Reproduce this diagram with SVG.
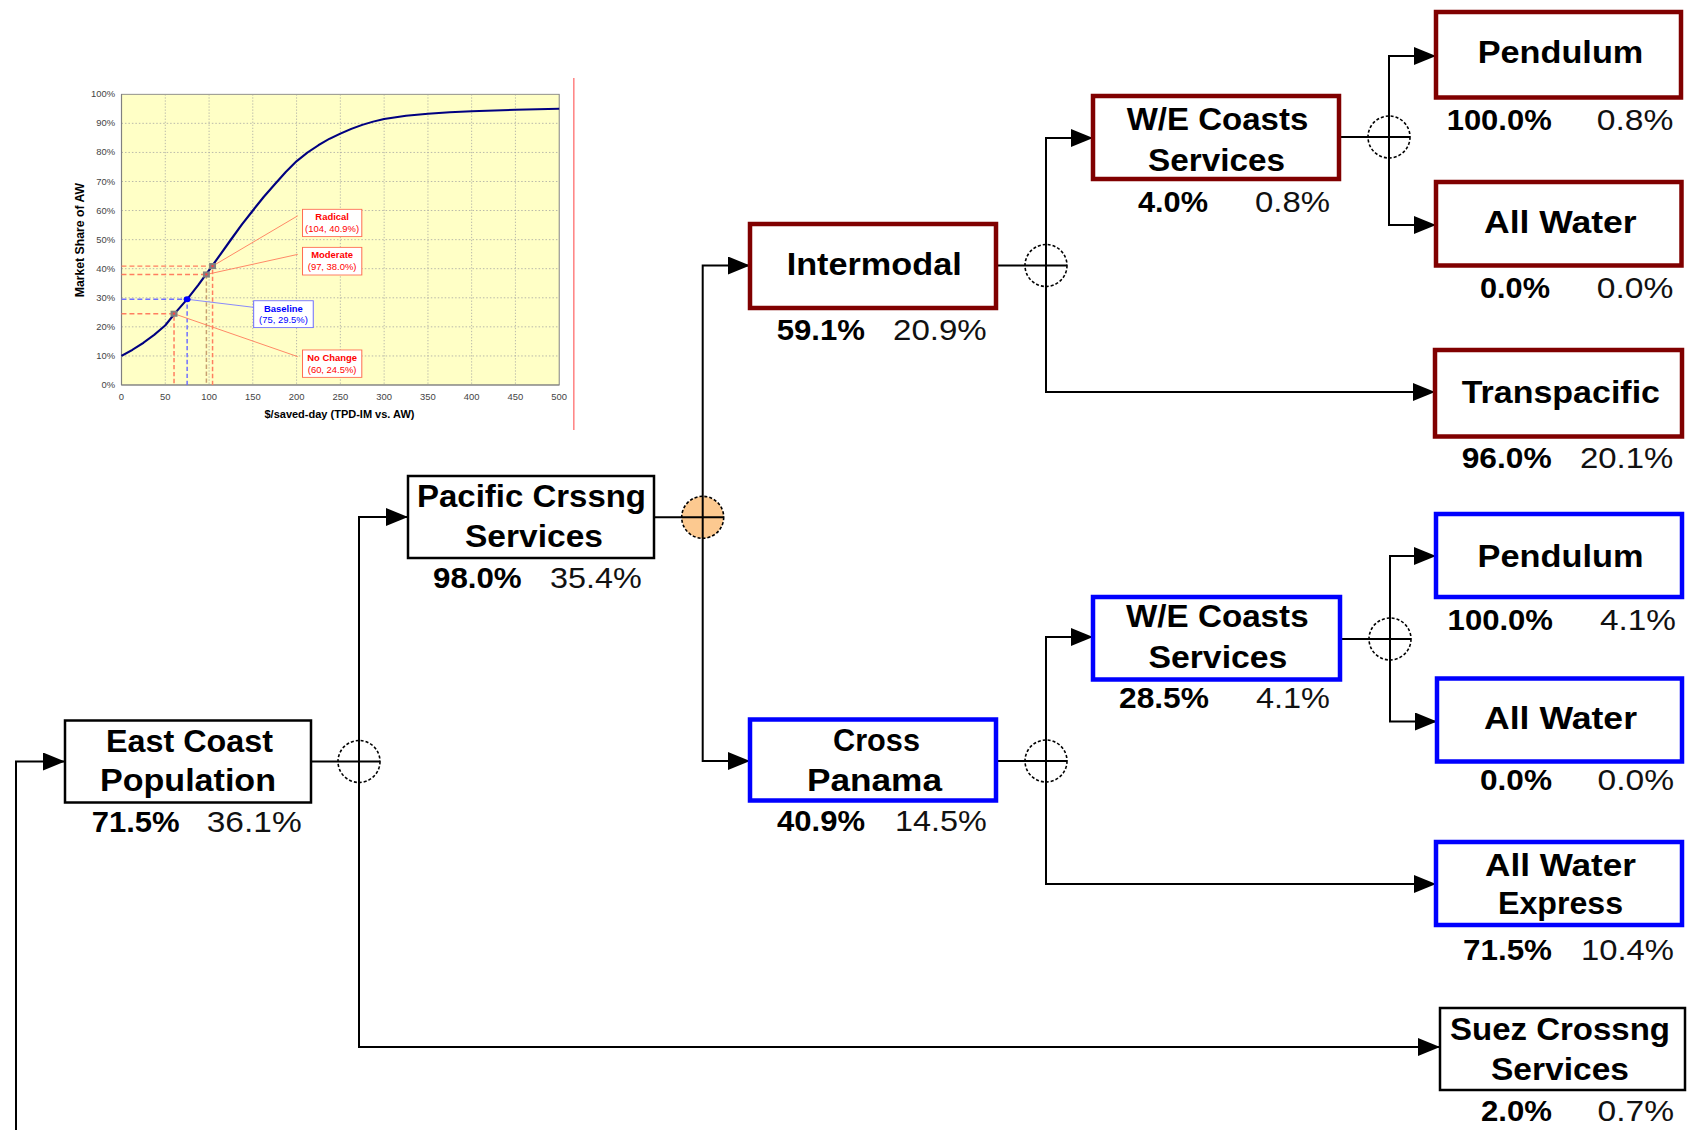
<svg xmlns="http://www.w3.org/2000/svg" width="1690" height="1130" viewBox="0 0 1690 1130">
<style>
.box{fill:#fff;stroke:#000;stroke-width:2.5}
.red{fill:#fff;stroke:#800000;stroke-width:4.5}
.blue{fill:#fff;stroke:#0000ff;stroke-width:4.5}
.t{font-family:"Liberation Sans",Arial,sans-serif;font-weight:bold;font-size:31px;fill:#000}
.pb{font-family:"Liberation Sans",Arial,sans-serif;font-weight:bold;font-size:30px;fill:#000}
.pn{font-family:"Liberation Sans",Arial,sans-serif;font-weight:normal;font-size:30px;fill:#111}
.conn{fill:none;stroke:#000;stroke-width:2}
.arr{marker-end:url(#ah)}
.junc{fill:#fff;stroke:#000;stroke-width:1.6;stroke-dasharray:3 2}
.grid{stroke:#a0a0a0;stroke-width:0.8;stroke-dasharray:1.5 2}
.ax{font-family:"Liberation Sans",Arial,sans-serif;font-size:9.5px;fill:#444}
.axt{font-family:"Liberation Sans",Arial,sans-serif;font-size:12px;font-weight:bold;fill:#000}
.cl{font-family:"Liberation Sans",Arial,sans-serif;font-size:9.5px;fill:#ff0000;text-anchor:middle}
.clb{font-family:"Liberation Sans",Arial,sans-serif;font-size:9.5px;fill:#0000ff;text-anchor:middle}
</style>
<defs>
<marker id="ah" markerUnits="userSpaceOnUse" markerWidth="22" markerHeight="18" refX="22" refY="9" orient="auto">
<path d="M0,0 L22,9 L0,18 z" fill="#000"/>
</marker>
</defs>
<rect width="1690" height="1130" fill="#fff"/>

<g id="chart" transform="translate(121.5,0) scale(0.993,0.8667) translate(-121.5,0)">
<rect x="121.5" y="108.8" width="440.8" height="335.4" fill="#ffffc6" stroke="#808080" stroke-width="1"/>
<g class="grid">
<line x1="165.6" y1="108.8" x2="165.6" y2="444.2"/>
<line x1="209.7" y1="108.8" x2="209.7" y2="444.2"/>
<line x1="253.7" y1="108.8" x2="253.7" y2="444.2"/>
<line x1="297.8" y1="108.8" x2="297.8" y2="444.2"/>
<line x1="341.9" y1="108.8" x2="341.9" y2="444.2"/>
<line x1="386.0" y1="108.8" x2="386.0" y2="444.2"/>
<line x1="430.1" y1="108.8" x2="430.1" y2="444.2"/>
<line x1="474.1" y1="108.8" x2="474.1" y2="444.2"/>
<line x1="518.2" y1="108.8" x2="518.2" y2="444.2"/>
<line x1="121.5" y1="410.7" x2="562.3" y2="410.7"/>
<line x1="121.5" y1="377.1" x2="562.3" y2="377.1"/>
<line x1="121.5" y1="343.6" x2="562.3" y2="343.6"/>
<line x1="121.5" y1="310.0" x2="562.3" y2="310.0"/>
<line x1="121.5" y1="276.5" x2="562.3" y2="276.5"/>
<line x1="121.5" y1="242.9" x2="562.3" y2="242.9"/>
<line x1="121.5" y1="209.4" x2="562.3" y2="209.4"/>
<line x1="121.5" y1="175.9" x2="562.3" y2="175.9"/>
<line x1="121.5" y1="142.3" x2="562.3" y2="142.3"/>
</g>
<line x1="121.5" y1="108.8" x2="121.5" y2="444.2" stroke="#808080" stroke-width="1.2"/>
<line x1="121.5" y1="444.2" x2="562.3" y2="444.2" stroke="#808080" stroke-width="1.2"/>
<g class="ax" text-anchor="end">
<text x="115" y="447.7">0%</text>
<text x="115" y="414.2">10%</text>
<text x="115" y="380.6">20%</text>
<text x="115" y="347.1">30%</text>
<text x="115" y="313.5">40%</text>
<text x="115" y="280.0">50%</text>
<text x="115" y="246.4">60%</text>
<text x="115" y="212.9">70%</text>
<text x="115" y="179.4">80%</text>
<text x="115" y="145.8">90%</text>
<text x="115" y="112.3">100%</text>
</g>
<g class="ax" text-anchor="middle">
<text x="121.5" y="462">0</text>
<text x="165.6" y="462">50</text>
<text x="209.7" y="462">100</text>
<text x="253.7" y="462">150</text>
<text x="297.8" y="462">200</text>
<text x="341.9" y="462">250</text>
<text x="386.0" y="462">300</text>
<text x="430.1" y="462">350</text>
<text x="474.1" y="462">400</text>
<text x="518.2" y="462">450</text>
<text x="562.3" y="462">500</text>
</g>
<text class="axt" x="341" y="482" text-anchor="middle" textLength="151" lengthAdjust="spacingAndGlyphs">$/saved-day (TPD-IM vs. AW)</text>
<text class="axt" x="0" y="0" text-anchor="middle" transform="translate(84,277) rotate(-90)" textLength="132" lengthAdjust="spacingAndGlyphs">Market Share of AW</text>
<g fill="none" stroke-width="1.5" stroke-dasharray="5 3">
<polyline points="121.5,362 174.4,362 174.4,444.2" stroke="#ff7f60"/>
<polyline points="121.5,345.3 187.6,345.3 187.6,444.2" stroke="#7070ff"/>
<polyline points="121.5,316.7 207,316.7" stroke="#ff7f60"/>
<line x1="207" y1="316.7" x2="207" y2="444.2" stroke="#c8a070"/>
<polyline points="121.5,307 213.2,307 213.2,444.2" stroke="#ff7f60"/>
</g>
<polyline fill="none" stroke="#000080" stroke-width="2.3" stroke-linejoin="round" points="121.5,410.66 132.52,403.62 143.54,395.57 154.56,386.18 165.58,375.44 176.6,359.68 187.62,345.26 198.64,329.16 209.66,311.72 220.68,294.28 231.7,276.5 242.72,259.06 253.74,242.96 264.76,227.2 275.78,212.77 286.8,198.69 297.82,185.94 308.84,175.88 319.86,167.5 330.88,160.12 341.9,154.08 352.92,148.72 363.94,144.02 374.96,140.33 385.98,137.31 408.02,133.62 430.06,131.27 452.1,129.6 474.14,128.25 518.22,126.58 562.3,125.57"/>
<g stroke-width="1">
<line x1="213.2" y1="307" x2="299" y2="249" stroke="#ff8060"/>
<line x1="207" y1="316.7" x2="299" y2="293.5" stroke="#ff8060"/>
<line x1="187.6" y1="345.3" x2="254.6" y2="354.6" stroke="#8080ff"/>
<line x1="174.4" y1="362" x2="299" y2="411.5" stroke="#ff8060"/>
</g>
<rect x="170.9" y="358.5" width="7" height="7" fill="#808080"/>
<circle cx="174.4" cy="362" r="1.3" fill="#ff4040"/>
<rect x="203.5" y="313.2" width="7" height="7" fill="#808080"/>
<circle cx="207" cy="316.7" r="1.3" fill="#ff4040"/>
<rect x="209.7" y="303.5" width="7" height="7" fill="#808080"/>
<circle cx="213.2" cy="307" r="1.3" fill="#ff4040"/>
<circle cx="187.6" cy="345.3" r="3.5" fill="#0000ff"/>
<rect x="303.8" y="241.5" width="59.7" height="31.5" fill="#fff" stroke="#ff6a50" stroke-width="1"/>
<text class="cl" x="333.6" y="254" font-weight="bold">Radical</text>
<text class="cl" x="333.6" y="267.5">(104, 40.9%)</text>
<rect x="303.8" y="285.4" width="59.7" height="31.9" fill="#fff" stroke="#ff6a50" stroke-width="1"/>
<text class="cl" x="333.6" y="298" font-weight="bold">Moderate</text>
<text class="cl" x="333.6" y="311.5">(97, 38.0%)</text>
<rect x="254.6" y="347" width="60" height="31" fill="#fff" stroke="#6a6aff" stroke-width="1"/>
<text class="clb" x="284.6" y="359.5" font-weight="bold">Baseline</text>
<text class="clb" x="284.6" y="373">(75, 29.5%)</text>
<rect x="303.8" y="403.8" width="59.7" height="31.6" fill="#fff" stroke="#ff6a50" stroke-width="1"/>
<text class="cl" x="333.6" y="416.5" font-weight="bold">No Change</text>
<text class="cl" x="333.6" y="430">(60, 24.5%)</text>
<line x1="577" y1="90" x2="577" y2="496" stroke="#ff8080" stroke-width="1.5"/>
</g>

<g id="junctions">
<circle class="junc" cx="359" cy="761.5" r="21"/>
<circle class="junc" cx="702.7" cy="517.3" r="21" style="fill:#fcc990"/>
<circle class="junc" cx="1046" cy="265.5" r="21"/>
<circle class="junc" cx="1389" cy="137" r="21"/>
<circle class="junc" cx="1046" cy="761" r="21"/>
<circle class="junc" cx="1390" cy="639" r="21"/>
</g>

<g id="connectors" class="conn">
<path class="arr" d="M16,1130 V761.5 H65"/>
<path d="M311,761.5 H380"/>
<path class="arr" d="M359,761.5 V517 H408"/>
<path class="arr" d="M359,761.5 V1047 H1440"/>
<path d="M654,517.3 H723.7"/>
<path class="arr" d="M702.7,517.3 V265.5 H750"/>
<path class="arr" d="M702.7,517.3 V761 H750"/>
<path d="M996,265.5 H1067"/>
<path class="arr" d="M1046,265.5 V138 H1093"/>
<path class="arr" d="M1046,265.5 V392 H1435"/>
<path d="M1339,137 H1410"/>
<path class="arr" d="M1389,137 V56 H1436"/>
<path class="arr" d="M1389,137 V225 H1436"/>
<path d="M996,761 H1067"/>
<path class="arr" d="M1046,761 V637 H1093"/>
<path class="arr" d="M1046,761 V884 H1436"/>
<path d="M1340,639 H1411"/>
<path class="arr" d="M1390,639 V556 H1436"/>
<path class="arr" d="M1390,639 V721.5 H1437"/>
</g>

<g id="east-coast">
<rect class="box" x="65" y="720.5" width="246" height="82"/>
<text class="t" x="106" y="751.7" textLength="167" lengthAdjust="spacingAndGlyphs">East Coast</text>
<text class="t" x="100" y="790.7" textLength="176" lengthAdjust="spacingAndGlyphs">Population</text>
<text class="pb" x="91.7" y="831.7" textLength="88" lengthAdjust="spacingAndGlyphs">71.5%</text>
<text class="pn" x="206.7" y="831.7" textLength="95" lengthAdjust="spacingAndGlyphs">36.1%</text>
</g>

<g id="pacific">
<rect class="box" x="408" y="476" width="246" height="82"/>
<text class="t" x="417" y="506.7" textLength="229" lengthAdjust="spacingAndGlyphs">Pacific Crssng</text>
<text class="t" x="465" y="547" textLength="138" lengthAdjust="spacingAndGlyphs">Services</text>
<text class="pb" x="433" y="588.3" textLength="88.7" lengthAdjust="spacingAndGlyphs">98.0%</text>
<text class="pn" x="550" y="588.3" textLength="91.7" lengthAdjust="spacingAndGlyphs">35.4%</text>
</g>

<g id="intermodal">
<rect class="red" x="750" y="224" width="246" height="84"/>
<text class="t" x="786.7" y="275" textLength="175" lengthAdjust="spacingAndGlyphs">Intermodal</text>
<text class="pb" x="776.7" y="340" textLength="88.3" lengthAdjust="spacingAndGlyphs">59.1%</text>
<text class="pn" x="893" y="340" textLength="93.7" lengthAdjust="spacingAndGlyphs">20.9%</text>
</g>

<g id="cross-panama">
<rect class="blue" x="750" y="719.5" width="246" height="81"/>
<text class="t" x="833" y="750.7" textLength="87" lengthAdjust="spacingAndGlyphs">Cross</text>
<text class="t" x="807" y="790.7" textLength="135" lengthAdjust="spacingAndGlyphs">Panama</text>
<text class="pb" x="777" y="830.7" textLength="88" lengthAdjust="spacingAndGlyphs">40.9%</text>
<text class="pn" x="895" y="830.7" textLength="91.7" lengthAdjust="spacingAndGlyphs">14.5%</text>
</g>

<g id="we-coasts-ip">
<rect class="red" x="1093" y="96" width="246" height="83"/>
<text class="t" x="1126.7" y="130" textLength="181.6" lengthAdjust="spacingAndGlyphs">W/E Coasts</text>
<text class="t" x="1148" y="170.7" textLength="137" lengthAdjust="spacingAndGlyphs">Services</text>
<text class="pb" x="1138" y="211.7" textLength="70" lengthAdjust="spacingAndGlyphs">4.0%</text>
<text class="pn" x="1255" y="211.7" textLength="75" lengthAdjust="spacingAndGlyphs">0.8%</text>
</g>

<g id="we-coasts-cp">
<rect class="blue" x="1093" y="597" width="247" height="82.5"/>
<text class="t" x="1126" y="626.7" textLength="182.6" lengthAdjust="spacingAndGlyphs">W/E Coasts</text>
<text class="t" x="1148.4" y="668.3" textLength="139" lengthAdjust="spacingAndGlyphs">Services</text>
<text class="pb" x="1119" y="708.3" textLength="90" lengthAdjust="spacingAndGlyphs">28.5%</text>
<text class="pn" x="1256" y="708.3" textLength="74" lengthAdjust="spacingAndGlyphs">4.1%</text>
</g>

<g id="pendulum-ip">
<rect class="red" x="1436" y="12" width="245" height="85.5"/>
<text class="t" x="1477.7" y="63.3" textLength="165.6" lengthAdjust="spacingAndGlyphs">Pendulum</text>
<text class="pb" x="1446.7" y="130" textLength="105" lengthAdjust="spacingAndGlyphs">100.0%</text>
<text class="pn" x="1596.7" y="130" textLength="76.7" lengthAdjust="spacingAndGlyphs">0.8%</text>
</g>

<g id="all-water-ip">
<rect class="red" x="1436" y="182" width="245.5" height="83.5"/>
<text class="t" x="1484" y="233.3" textLength="152.7" lengthAdjust="spacingAndGlyphs">All Water</text>
<text class="pb" x="1480" y="297.7" textLength="70" lengthAdjust="spacingAndGlyphs">0.0%</text>
<text class="pn" x="1596.7" y="297.7" textLength="76.7" lengthAdjust="spacingAndGlyphs">0.0%</text>
</g>

<g id="transpacific">
<rect class="red" x="1435" y="350" width="247" height="86.5"/>
<text class="t" x="1461.7" y="403.3" textLength="198.3" lengthAdjust="spacingAndGlyphs">Transpacific</text>
<text class="pb" x="1461.7" y="468.3" textLength="90" lengthAdjust="spacingAndGlyphs">96.0%</text>
<text class="pn" x="1580" y="468.3" textLength="93.3" lengthAdjust="spacingAndGlyphs">20.1%</text>
</g>

<g id="pendulum-cp">
<rect class="blue" x="1436" y="514" width="246" height="83"/>
<text class="t" x="1477.5" y="566.5" textLength="166" lengthAdjust="spacingAndGlyphs">Pendulum</text>
<text class="pb" x="1447.6" y="630" textLength="105.4" lengthAdjust="spacingAndGlyphs">100.0%</text>
<text class="pn" x="1600" y="630" textLength="76" lengthAdjust="spacingAndGlyphs">4.1%</text>
</g>

<g id="all-water-cp">
<rect class="blue" x="1437" y="678.5" width="245" height="83"/>
<text class="t" x="1484" y="729" textLength="153" lengthAdjust="spacingAndGlyphs">All Water</text>
<text class="pb" x="1480" y="790" textLength="72" lengthAdjust="spacingAndGlyphs">0.0%</text>
<text class="pn" x="1597.5" y="790" textLength="76.5" lengthAdjust="spacingAndGlyphs">0.0%</text>
</g>

<g id="all-water-express">
<rect class="blue" x="1436" y="842" width="246" height="83"/>
<text class="t" x="1485" y="876" textLength="151" lengthAdjust="spacingAndGlyphs">All Water</text>
<text class="t" x="1498" y="914" textLength="125" lengthAdjust="spacingAndGlyphs">Express</text>
<text class="pb" x="1463" y="959.5" textLength="89" lengthAdjust="spacingAndGlyphs">71.5%</text>
<text class="pn" x="1581" y="959.5" textLength="93" lengthAdjust="spacingAndGlyphs">10.4%</text>
</g>

<g id="suez">
<rect class="box" x="1440" y="1008" width="245" height="82"/>
<text class="t" x="1450" y="1040" textLength="220" lengthAdjust="spacingAndGlyphs">Suez Crossng</text>
<text class="t" x="1491" y="1080" textLength="138" lengthAdjust="spacingAndGlyphs">Services</text>
<text class="pb" x="1481" y="1121" textLength="71" lengthAdjust="spacingAndGlyphs">2.0%</text>
<text class="pn" x="1597.5" y="1121" textLength="76.5" lengthAdjust="spacingAndGlyphs">0.7%</text>
</g>
</svg>
